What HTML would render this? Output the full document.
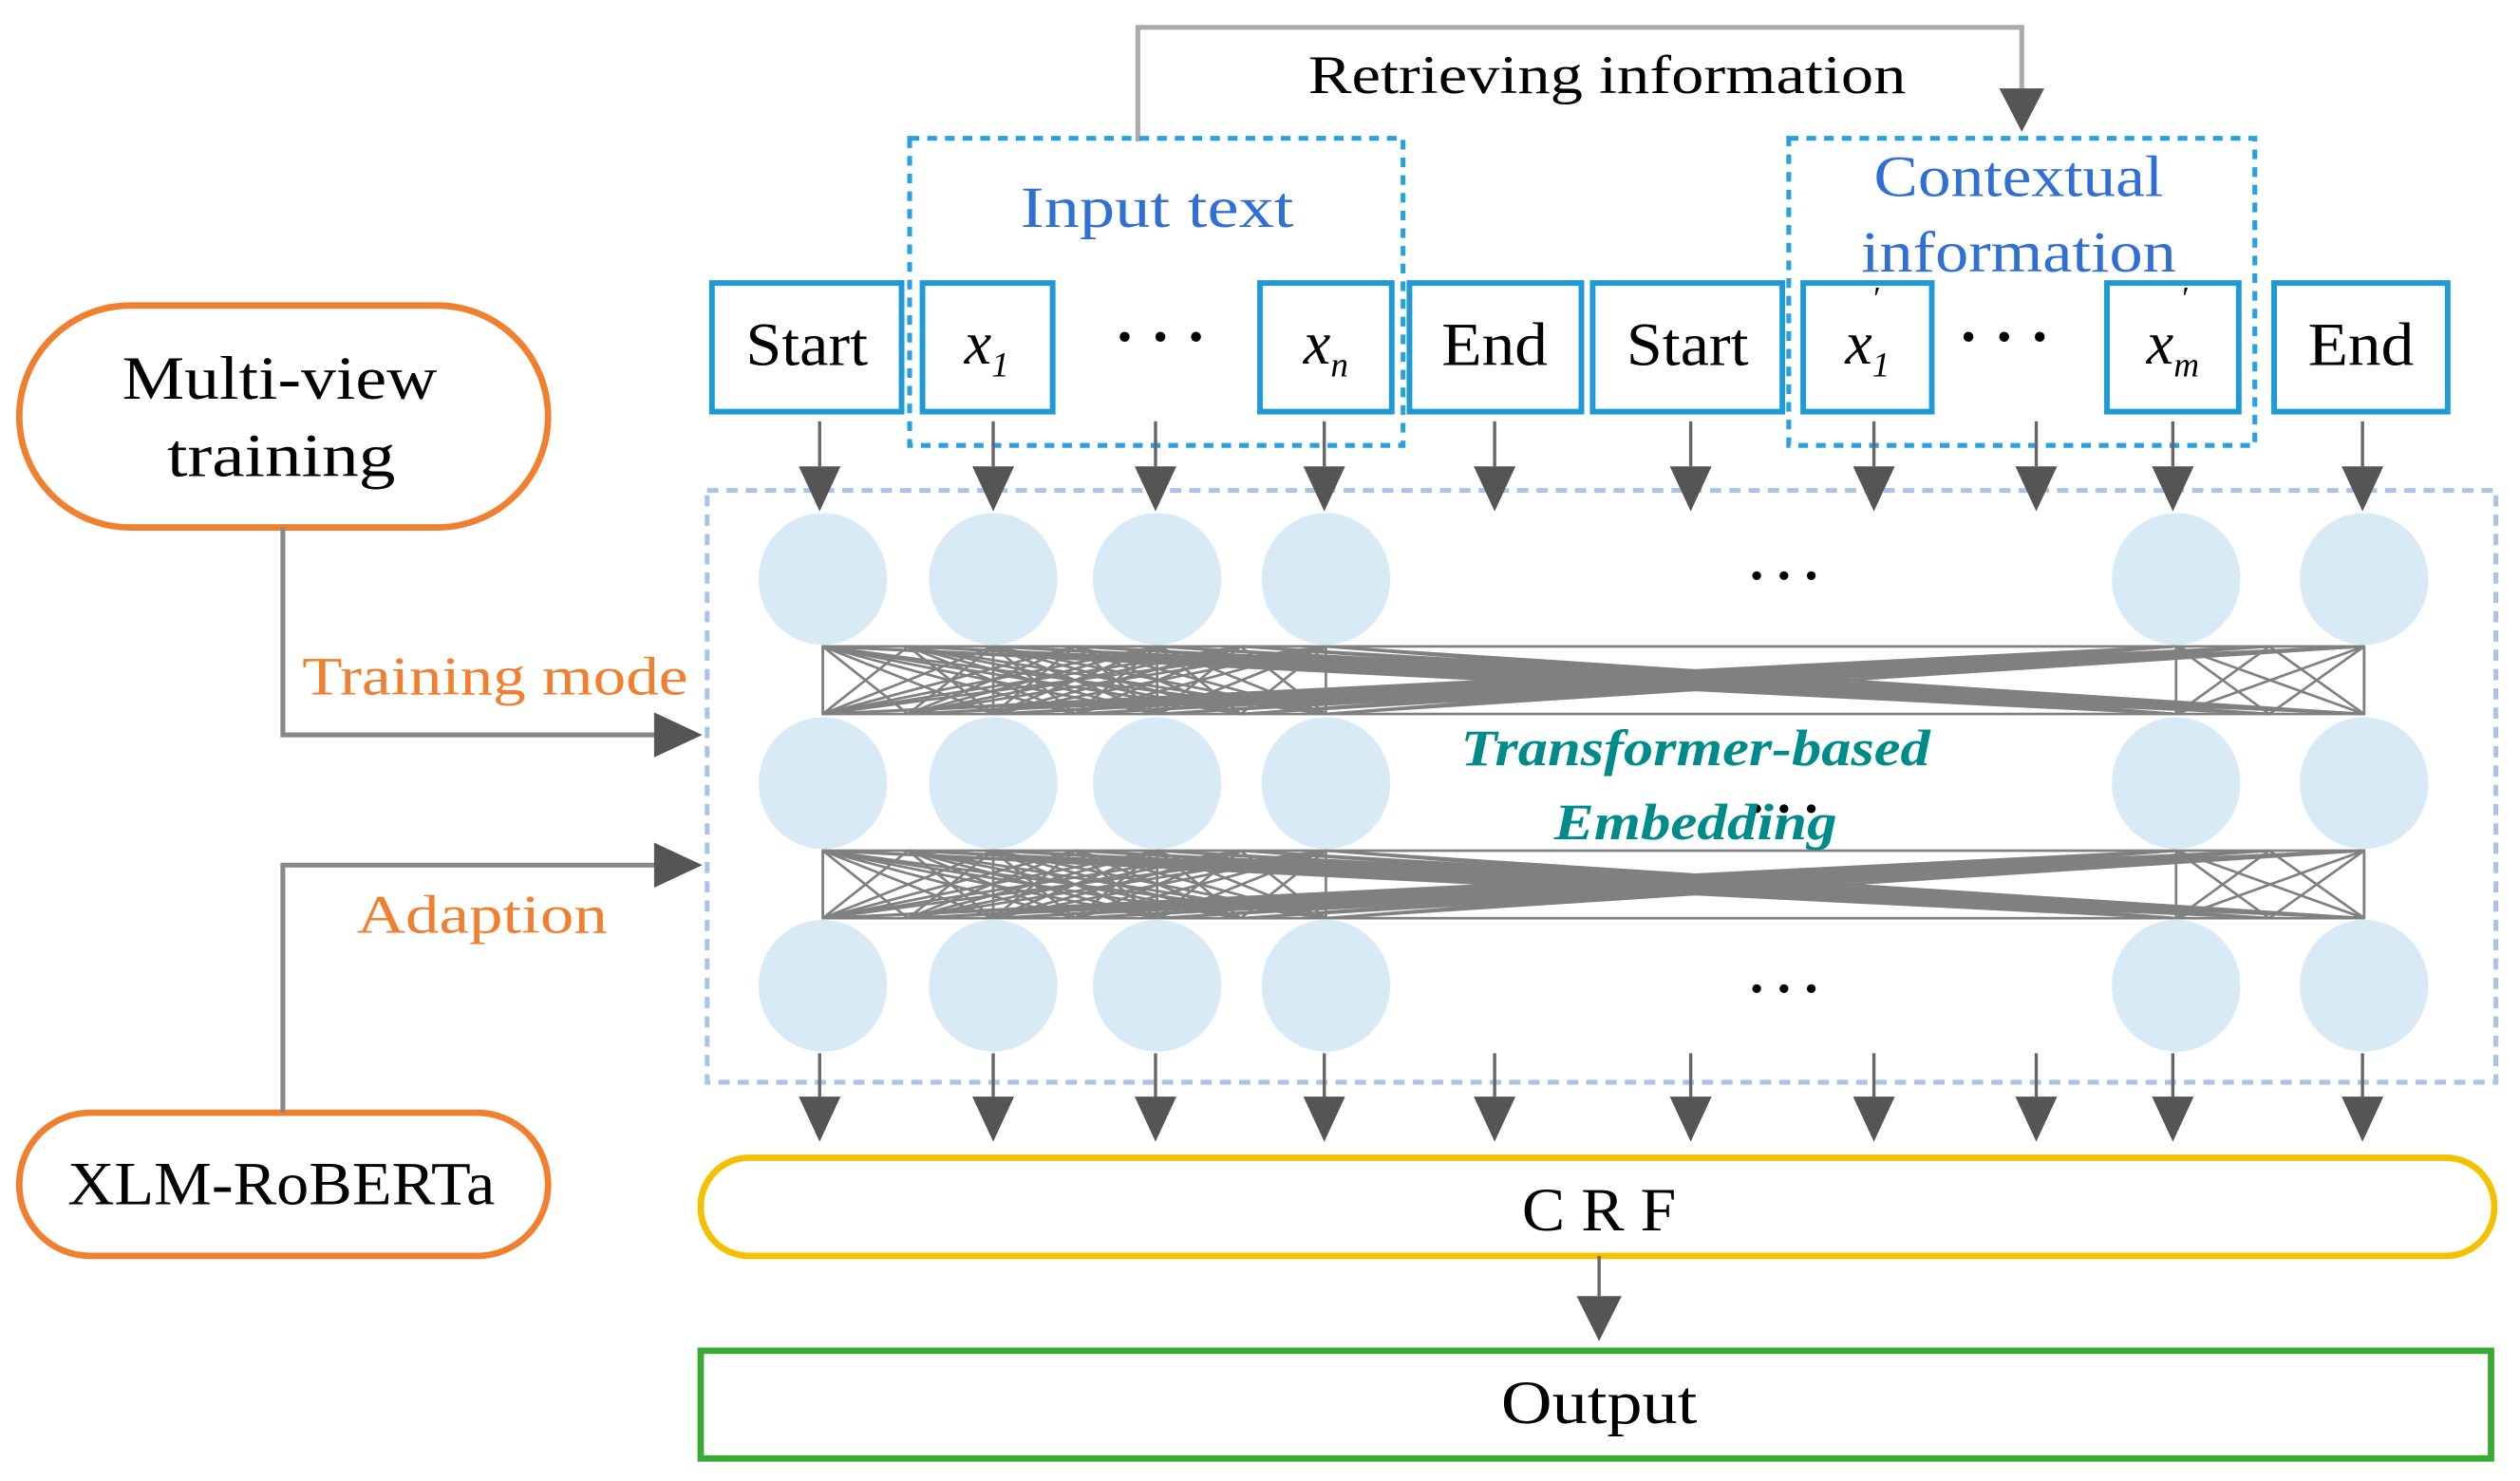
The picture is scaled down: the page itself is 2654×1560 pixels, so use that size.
<!DOCTYPE html>
<html><head><meta charset="utf-8"><style>
html,body{margin:0;padding:0;background:#fff;}
svg{display:block;}
text{font-family:"Liberation Serif",serif;}
</style></head><body>
<svg id="s" width="2654" height="1560" viewBox="0 0 1568 921" preserveAspectRatio="none" xmlns="http://www.w3.org/2000/svg">
<polyline points="708,88 708,17 1258,17 1258,55" fill="none" stroke="#aaa" stroke-width="3"/>
<path d="M1244,55 L1272,55 L1258,82 z" fill="#555"/>
<text x="1000" y="58" font-size="34" text-anchor="middle" fill="#000" textLength="372" lengthAdjust="spacingAndGlyphs">Retrieving information</text>
<rect x="566" y="86" width="307" height="191" fill="none" stroke="#29a0e0" stroke-width="3" stroke-dasharray="6,5"/>
<rect x="1113" y="86" width="290" height="191" fill="none" stroke="#29a0e0" stroke-width="3" stroke-dasharray="6,5"/>
<text x="720" y="141" font-size="36" text-anchor="middle" fill="#2f6fd6" textLength="170" lengthAdjust="spacingAndGlyphs">Input text</text>
<text x="1256" y="122" font-size="36" text-anchor="middle" fill="#2f6fd6" textLength="180" lengthAdjust="spacingAndGlyphs">Contextual</text>
<text x="1256" y="169" font-size="36" text-anchor="middle" fill="#2f6fd6" textLength="196" lengthAdjust="spacingAndGlyphs">information</text>
<g fill="none" stroke="#1e9ad6" stroke-width="3.5">
<rect x="443" y="176" width="118" height="80"/>
<rect x="574" y="176" width="81" height="80"/>
<rect x="784" y="176" width="82" height="80"/>
<rect x="877" y="176" width="107" height="80"/>
<rect x="991" y="176" width="118" height="80"/>
<rect x="1122" y="176" width="80" height="80"/>
<rect x="1311" y="176" width="82" height="80"/>
<rect x="1415" y="176" width="108" height="80"/>
</g>
<g font-size="38" text-anchor="middle" fill="#000">
<text x="502" y="227" textLength="76" lengthAdjust="spacingAndGlyphs">Start</text>
<text x="614" y="226" font-style="italic">x<tspan font-size="22" dy="8">1</tspan></text>
<text x="825" y="226" font-style="italic">x<tspan font-size="22" dy="8">n</tspan></text>
<text x="930" y="227" textLength="66" lengthAdjust="spacingAndGlyphs">End</text>
<text x="1050" y="227" textLength="76" lengthAdjust="spacingAndGlyphs">Start</text>
<text x="1162" y="226" font-style="italic">x<tspan font-size="22" dy="8">1</tspan></text>
<text x="1352" y="226" font-style="italic">x<tspan font-size="22" dy="8">m</tspan></text>
<text x="1469" y="227" textLength="66" lengthAdjust="spacingAndGlyphs">End</text>
<text x="722" y="222" font-weight="bold">· · ·</text>
<text x="1247" y="222" font-weight="bold">· · ·</text>
<text x="1168" y="192" font-size="20">′</text>
<text x="1360" y="192" font-size="20">′</text>
</g>
<rect x="440" y="305" width="1113" height="368" fill="none" stroke="#a8c4e8" stroke-width="3" stroke-dasharray="7,5"/>
<g id="arrows"></g>
<g id="circles" fill="#d9eaf7"></g>
<g id="mesh" stroke="#808080" stroke-width="1.6" fill="none"></g>
<g font-size="34" font-weight="bold" fill="#000" text-anchor="middle">
<text x="1110" y="360">. . .</text>
<text x="1110" y="505">. . .</text>
<text x="1110" y="617">. . .</text>
</g>
<text x="1055" y="476" font-size="32" font-style="italic" font-weight="bold" text-anchor="middle" fill="#008b8b" textLength="292" lengthAdjust="spacingAndGlyphs">Transformer-based</text>
<text x="1055" y="522" font-size="32" font-style="italic" font-weight="bold" text-anchor="middle" fill="#008b8b" textLength="176" lengthAdjust="spacingAndGlyphs">Embedding</text>
<rect x="436" y="720" width="1116" height="61" rx="30" fill="none" stroke="#f5c000" stroke-width="4"/>
<text x="995" y="765" font-size="38" text-anchor="middle" textLength="96" lengthAdjust="spacingAndGlyphs">C R F</text>
<line x1="995" y1="781" x2="995" y2="806" stroke="#666" stroke-width="2"/>
<path d="M981,806 L1009,806 L995,834 z" fill="#555"/>
<rect x="436" y="840" width="1114" height="67" fill="none" stroke="#3aaa35" stroke-width="4"/>
<text x="995" y="885" font-size="38" text-anchor="middle" textLength="122" lengthAdjust="spacingAndGlyphs">Output</text>
<rect x="12" y="190" width="329" height="138" rx="69" fill="none" stroke="#f08030" stroke-width="4"/>
<text x="174" y="248" font-size="38" text-anchor="middle" textLength="196" lengthAdjust="spacingAndGlyphs">Multi-view</text>
<text x="175" y="296" font-size="38" text-anchor="middle" textLength="142" lengthAdjust="spacingAndGlyphs">training</text>
<polyline points="176,328 176,457 408,457" fill="none" stroke="#888" stroke-width="3"/>
<path d="M407,443 L437,457 L407,471 z" fill="#555"/>
<text x="308" y="432" font-size="34" text-anchor="middle" fill="#f08030" textLength="240" lengthAdjust="spacingAndGlyphs">Training mode</text>
<rect x="12" y="692" width="329" height="89" rx="44" fill="none" stroke="#f08030" stroke-width="4"/>
<text x="175" y="749" font-size="38" text-anchor="middle" textLength="266" lengthAdjust="spacingAndGlyphs">XLM-RoBERTa</text>
<polyline points="176,692 176,538 408,538" fill="none" stroke="#888" stroke-width="3"/>
<path d="M407,524 L437,538 L407,552 z" fill="#555"/>
<text x="300" y="580" font-size="34" text-anchor="middle" fill="#f08030" textLength="156" lengthAdjust="spacingAndGlyphs">Adaption</text>
</svg>
<script>
(function(){
var NS="http://www.w3.org/2000/svg";
function el(p,t,a){var e=document.createElementNS(NS,t);for(var k in a)e.setAttribute(k,a[k]);p.appendChild(e);return e;}
var ax=[510,618,719,824,930,1052,1166,1267,1352,1470];
var ar=document.getElementById('arrows');
ax.forEach(function(x){
 [[262,290],[655,682]].forEach(function(r){
  el(ar,'line',{x1:x,y1:r[0],x2:x,y2:r[1],stroke:'#666','stroke-width':2});
  el(ar,'path',{d:'M'+(x-13)+','+r[1]+' L'+(x+13)+','+r[1]+' L'+x+','+(r[1]+28)+' z',fill:'#555'});
 });
});
var cx=[512,618,720,825,1354,1471];
var ci=document.getElementById('circles');
[360,487,613].forEach(function(y){cx.forEach(function(x){el(ci,'ellipse',{cx:x,cy:y,rx:40,ry:41});});});
var me=document.getElementById('mesh');
var mx=[512,565,618,669,720,772,825,1354,1412,1471];
[[402,444],[529,571]].forEach(function(b){
 el(me,'rect',{x:512,y:b[0],width:959,height:b[1]-b[0]});
 cx.forEach(function(a){el(me,'line',{x1:a,y1:b[0],x2:a,y2:b[1]});});
 mx.forEach(function(a){
  mx.forEach(function(c){ if(a!==c) el(me,'line',{x1:a,y1:b[0],x2:c,y2:b[1]}); });
 });
});
})();
</script>
</body></html>
